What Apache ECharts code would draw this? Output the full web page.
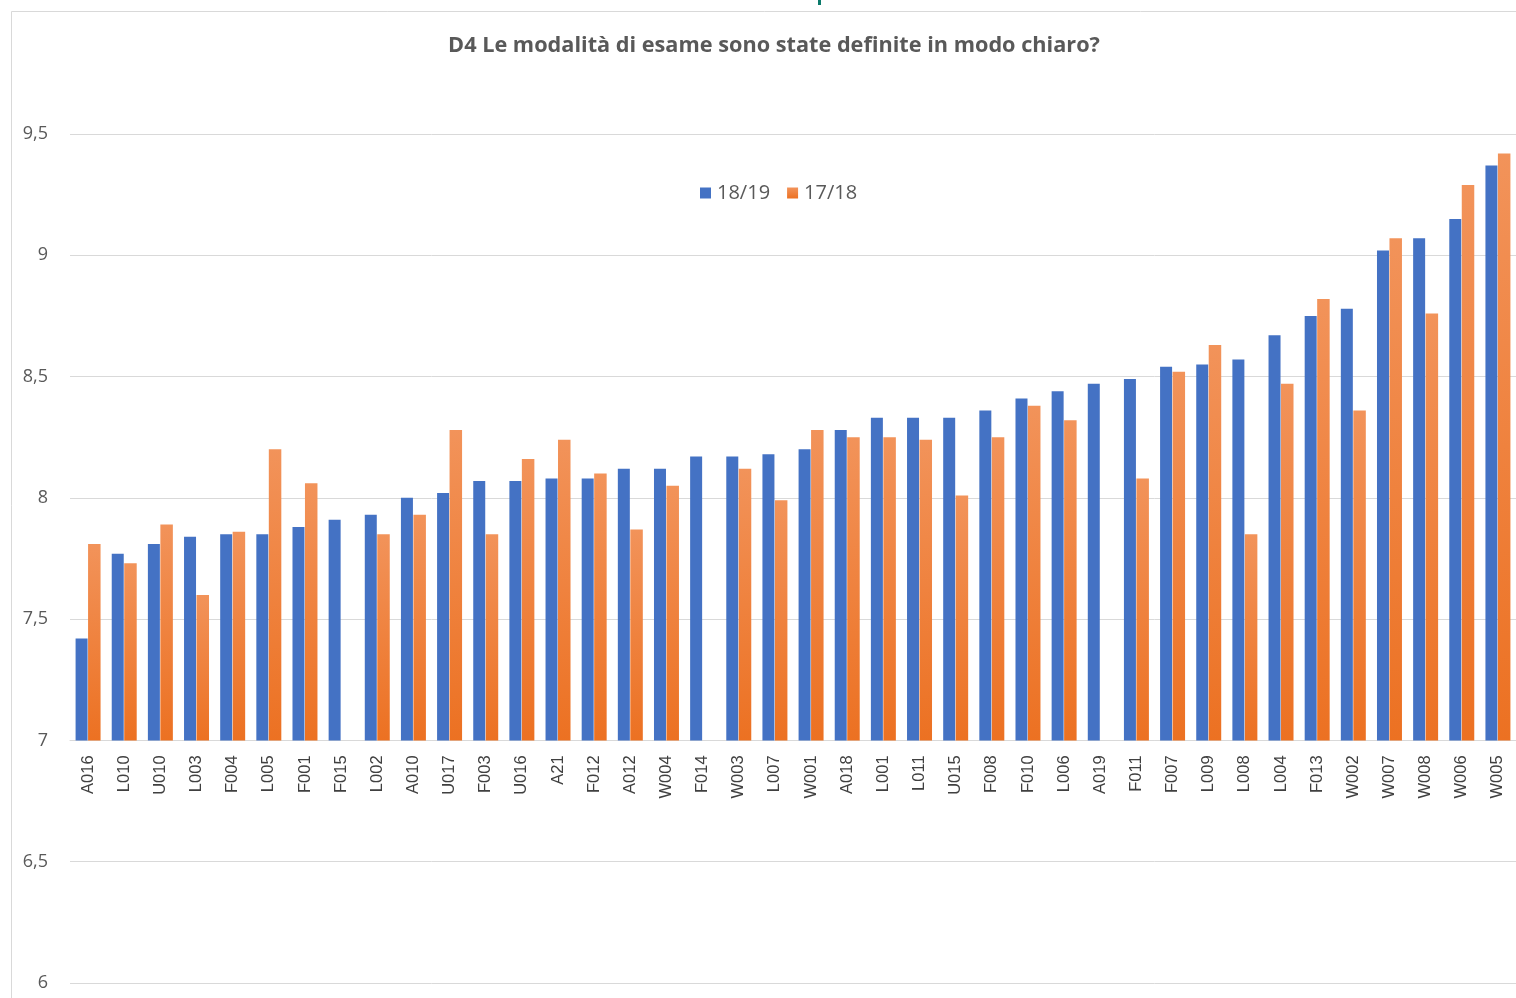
<!DOCTYPE html>
<html>
<head>
<meta charset="utf-8">
<script src="https://cdn.jsdelivr.net/npm/echarts@6/dist/echarts.min.js"></script>
<style>
html,body{margin:0;padding:0;background:#fff;}
#chart{width:1516px;height:998px;}
</style>
</head>
<body>
<div id="chart"></div>
<script>
const categories = ['A016','L010','U010','L003','F004','L005','F001','F015','L002','A010','U017','F003','U016','A21','F012','A012','W004','F014','W003','L007','W001','A018','L001','L011','U015','F008','F010','L006','A019','F011','F007','L009','L008','L004','F013','W002','W007','W008','W006','W005'];
const series1819 = [7.42,7.77,7.81,7.84,7.85,7.85,7.88,7.91,7.93,8.00,8.02,8.07,8.07,8.08,8.08,8.12,8.12,8.17,8.17,8.18,8.20,8.28,8.33,8.33,8.33,8.36,8.41,8.44,8.47,8.49,8.54,8.55,8.57,8.67,8.75,8.78,9.02,9.07,9.15,9.37];
const series1718 = [7.81,7.73,7.89,7.60,7.86,8.20,8.06,null,7.85,7.93,8.28,7.85,8.16,8.24,8.10,7.87,8.05,null,8.12,7.99,8.28,8.25,8.25,8.24,8.01,8.25,8.38,8.32,null,8.08,8.52,8.63,7.85,8.47,8.82,8.36,9.07,8.76,9.29,9.42];
const seriesNames = ['18/19','17/18'];
const yTicks = {min: 6, max: 9.5, interval: 0.5, base: 7};

const chart = echarts.init(document.getElementById('chart'));
const gridTop = 134, gridBottom = 15, H = 998;
const gridH = H - gridTop - gridBottom;
const baseOffset = -gridH * (yTicks.base - yTicks.min) / (yTicks.max - yTicks.min);

chart.setOption({
  animation: false,
  backgroundColor: '#fff',
  title: {
    text: 'D4 Le modalità di esame sono state definite in modo chiaro?',
    left: 769, top: 30, textAlign: 'center',
    textStyle: {fontFamily: 'Open Sans', fontWeight: 'bold', fontSize: 21.7, color: '#595959'}
  },
  legend: {
    data: seriesNames,
    left: 695, top: 178,
    itemWidth: 11, itemHeight: 11, itemGap: 17,
    icon: 'rect',
    textStyle: {fontFamily: 'Open Sans', fontSize: 20, color: '#595959', padding: [0,0,0,1]}
  },
  grid: {left: 70, right: 0, top: gridTop, bottom: gridBottom, containLabel: false},
  xAxis: {
    type: 'category',
    data: categories,
    offset: baseOffset,
    axisLine: {show: true, lineStyle: {color: '#D9D9D9', width: 1}},
    axisTick: {show: false},
    axisLabel: {interval: 0, rotate: 90, margin: 15, fontFamily: 'Liberation Sans', fontSize: 16.5, color: '#404040'}
  },
  yAxis: {
    type: 'value',
    min: yTicks.min, max: yTicks.max, interval: yTicks.interval,
    startValue: yTicks.base,
    axisLine: {show: false},
    axisTick: {show: false},
    splitLine: {lineStyle: {color: '#D9D9D9', width: 1}},
    axisLabel: {
      margin: 22, fontFamily: 'Open Sans', fontSize: 18, color: '#595959',
      formatter: v => String(v).replace('.', ',')
    }
  },
  series: [
    {
      name: seriesNames[0], type: 'bar', data: series1819,
      barWidth: 12, barGap: '4%',
      itemStyle: {color: '#4472C4'}
    },
    {
      name: seriesNames[1], type: 'bar', data: series1718,
      barWidth: 12.5,
      itemStyle: {color: new echarts.graphic.LinearGradient(0,0,0,1,[{offset:0,color:'#F2935A'},{offset:1,color:'#EC7122'}])}
    }
  ],
  graphic: [
    {type: 'rect', shape: {x: 11.5, y: 11.5, width: 1520, height: 1000}, style: {fill: 'none', stroke: '#D9D9D9', lineWidth: 1}, silent: true},
    {type: 'rect', shape: {x: 818, y: 0, width: 3, height: 5}, style: {fill: '#0B7A6B'}, silent: true}
  ]
});
</script>
</body>
</html>
